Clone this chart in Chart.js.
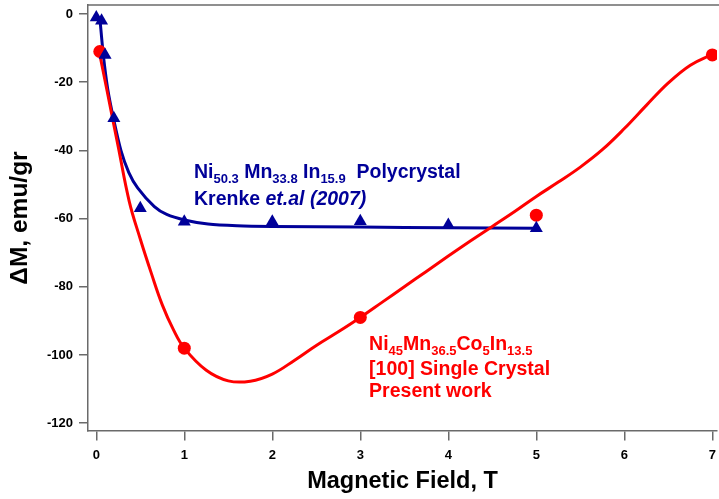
<!DOCTYPE html>
<html>
<head>
<meta charset="utf-8">
<script src="https://cdn.jsdelivr.net/npm/chart.js@4.4.1/dist/chart.umd.min.js"></script>
<style>
  html, body { margin: 0; padding: 0; background: #ffffff; overflow: hidden; }
  #wrap { width: 719px; height: 499px; }
</style>
</head>
<body>
<div id="wrap"><canvas id="c" width="719" height="499"></canvas></div>
<script>
// Polycrystal Ni50.3Mn33.8In15.9 (Krenke et al. 2007): measured points
const polyField = [0, 0.06, 0.1, 0.2, 0.5, 1, 2, 3, 4, 5];
const polyDM    = [-1, -2, -12, -30.6, -57, -60.9, -60.9, -60.8, -61.9, -62.8];

// Polycrystal fit curve
const polyFitField = [0.04, 0.08, 0.13, 0.19, 0.28, 0.37, 0.47, 0.66, 0.8, 1.0, 1.27, 1.6, 2, 3, 4, 5];
const polyFitDM    = [-1, -12, -22, -30, -40, -46.5, -51, -56.5, -58.8, -60.4, -61.6, -62.1, -62.3, -62.5, -62.7, -62.8];

// Single crystal Ni45Mn36.5Co5In13.5 (present work): measured points
const crystalField = [0.04, 1, 3, 5, 7];
const crystalDM    = [-11, -98, -89, -59, -12];

// Single crystal fit curve
const crystalFitField = [0.03, 0.125, 0.25, 0.375, 0.5, 0.625, 0.75, 0.875, 1.0, 1.25, 1.5, 1.75, 2.0, 2.25, 2.5, 2.75, 3.0,
                         3.25, 3.5, 3.75, 4.0, 4.25, 4.5, 4.75, 5.0, 5.25, 5.5, 5.75, 6.0, 6.25, 6.5, 6.75, 7.0];
const crystalFitDM    = [-10.6, -22.8, -39, -55, -66, -76, -85.3, -92.5, -98, -104.5, -107.6, -107.7, -105.6, -101.6, -97.2, -93.2, -89,
                         -84.5, -80, -75.5, -71, -66.6, -62.3, -58, -53.5, -49.3, -44.9, -39.8, -33.6, -26.8, -20.2, -15, -11.8];

// Axis ticks
const xTicks = [0, 1, 2, 3, 4, 5, 6, 7];
const yTicks = [-120, -100, -80, -60, -40, -20, 0];

// Label texts (runs: text, subscript flag, italic flag)
const polyLabel = [
  [["Ni"], ["50.3", 1], [" Mn"], ["33.8", 1], [" In"], ["15.9", 1], ["  Polycrystal"]],
  [["Krenke "], ["et.al (2007)", 0, 1]]
];
const crystalLabel = [
  [["Ni"], ["45", 1], ["Mn"], ["36.5", 1], ["Co"], ["5", 1], ["In"], ["13.5", 1]],
  [["[100] Single Crystal"]],
  [["Present work"]]
];

const BLUE = '#000099';
const RED = '#ff0000';
const AXIS = '#6a6a6a';
const FONT = '"Liberation Sans", Arial, Helvetica, sans-serif';

const pts = (xs, ys) => xs.map((x, i) => ({ x: x, y: ys[i] }));

function drawRuns(ctx, x, y, runs, color) {
  ctx.save();
  ctx.fillStyle = color;
  ctx.textAlign = 'left';
  ctx.textBaseline = 'alphabetic';
  let cx = x;
  for (const r of runs) {
    const sub = !!r[1], italic = !!r[2];
    ctx.font = (italic ? 'italic ' : '') + 'bold ' + (sub ? 13 : 19.5) + 'px ' + FONT;
    ctx.fillText(r[0], cx, y + (sub ? 5 : 0));
    cx += ctx.measureText(r[0]).width;
  }
  ctx.restore();
}

const labelsPlugin = {
  id: 'labelsPlugin',
  afterDraw(chart) {
    const { ctx, chartArea, scales } = chart;
    // top frame line
    ctx.save();
    ctx.strokeStyle = AXIS;
    ctx.lineWidth = 1.5;
    ctx.beginPath();
    ctx.moveTo(chartArea.left, chartArea.top);
    ctx.lineTo(chartArea.right + 2, chartArea.top);
    ctx.stroke();
    ctx.restore();

    const bx = scales.x.getPixelForValue(1.11);
    const by = scales.y.getPixelForValue(-48.1);
    drawRuns(ctx, bx, by, polyLabel[0], BLUE);
    drawRuns(ctx, bx, by + 27, polyLabel[1], BLUE);

    const rx = scales.x.getPixelForValue(3.10);
    const ry = scales.y.getPixelForValue(-98.5);
    drawRuns(ctx, rx, ry, crystalLabel[0], RED);
    drawRuns(ctx, rx, ry + 25, crystalLabel[1], RED);
    drawRuns(ctx, rx, ry + 47, crystalLabel[2], RED);
  }
};

new Chart(document.getElementById('c'), {
  type: 'scatter',
  data: {
    datasets: [
      {
        label: 'Polycrystal',
        data: pts(polyField, polyDM),
        pointStyle: 'triangle',
        pointRadius: 7.5,
        pointBackgroundColor: BLUE,
        pointBorderColor: BLUE,
        pointBorderWidth: 0,
        showLine: false,
        order: 0
      },
      {
        label: 'Single crystal',
        data: pts(crystalField, crystalDM),
        pointStyle: 'circle',
        pointRadius: 6.5,
        pointBackgroundColor: RED,
        pointBorderColor: RED,
        pointBorderWidth: 0,
        showLine: false,
        order: 1
      },
      {
        label: 'Single crystal fit',
        data: pts(crystalFitField, crystalFitDM),
        showLine: true,
        pointRadius: 0,
        borderColor: RED,
        borderWidth: 3,
        tension: 0.4,
        order: 2
      },
      {
        label: 'Polycrystal fit',
        data: pts(polyFitField, polyFitDM),
        showLine: true,
        pointRadius: 0,
        borderColor: BLUE,
        borderWidth: 3,
        tension: 0.3,
        order: 3
      }
    ]
  },
  options: {
    responsive: false,
    animation: false,
    devicePixelRatio: 1,
    layout: { autoPadding: false, padding: { top: 5, right: 2, left: 0, bottom: 0 } },
    plugins: { legend: { display: false }, tooltip: { enabled: false } },
    scales: {
      x: {
        type: 'linear',
        min: -0.094,
        max: 7.053,
        afterFit: s => { s.height = 68; s.paddingLeft = 0; s.paddingRight = 0; },
        afterBuildTicks: s => { s.ticks = xTicks.map(v => ({ value: v })); },
        // long tick slot, only the first 9px stroked, so labels sit lower without extra side padding
        grid: { drawOnChartArea: false, drawTicks: true, tickLength: 17, tickBorderDash: [9, 60], color: AXIS, lineWidth: 1.5 },
        border: { display: true, color: AXIS, width: 1.5 },
        ticks: { color: '#000', padding: 0, maxRotation: 0, font: { family: FONT, size: 13, weight: 'bold' } },
        title: { display: true, text: 'Magnetic Field, T', color: '#000', padding: { top: 0, bottom: 3 }, font: { family: FONT, size: 23.5, weight: 'bold' } }
      },
      y: {
        type: 'linear',
        min: -122.3,
        max: 2.64,
        afterFit: s => { s.width = 88; s.paddingTop = 0; s.paddingBottom = 0; },
        afterBuildTicks: s => { s.ticks = yTicks.map(v => ({ value: v })); },
        grid: { drawOnChartArea: false, drawTicks: true, tickLength: 9, color: AXIS, lineWidth: 1.5 },
        border: { display: true, color: AXIS, width: 1.5 },
        ticks: { color: '#000', padding: 6, font: { family: FONT, size: 13, weight: 'bold' } },
        title: { display: true, text: 'ΔM, emu/gr', color: '#000', padding: { top: 6, bottom: 0 }, font: { family: FONT, size: 24.5, weight: 'bold' } }
      }
    }
  },
  plugins: [labelsPlugin]
});
</script>
</body>
</html>
